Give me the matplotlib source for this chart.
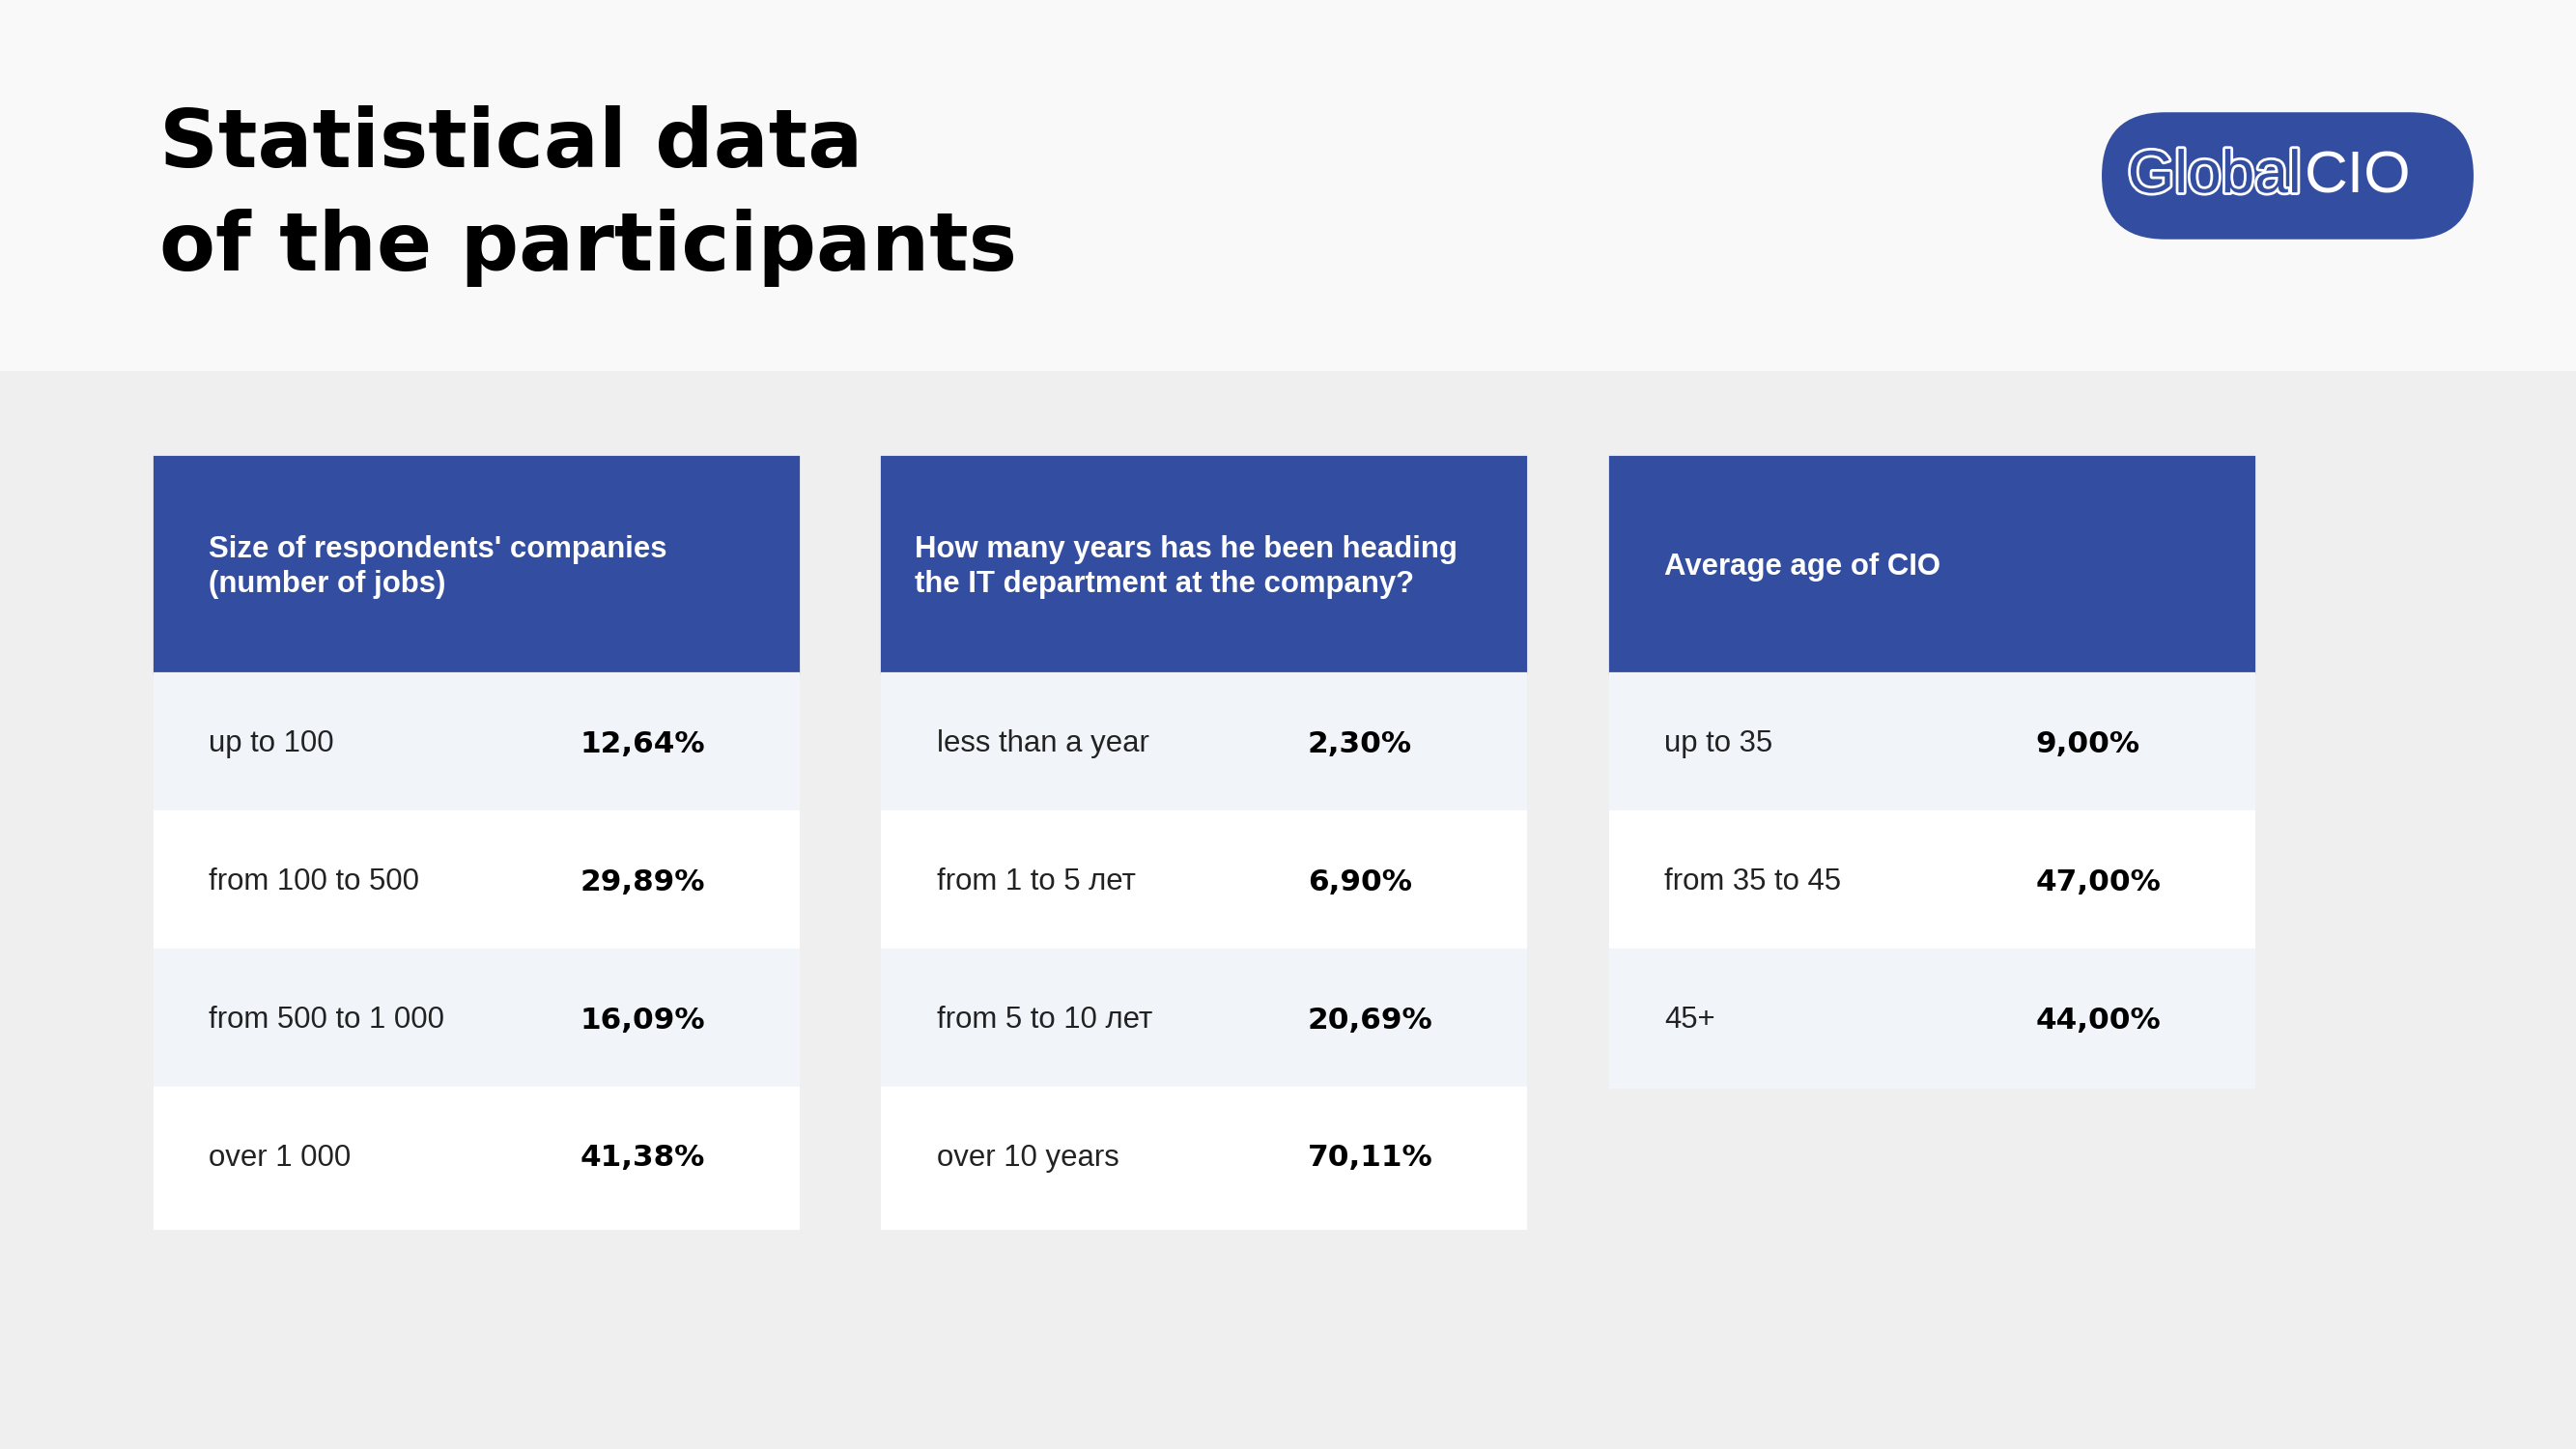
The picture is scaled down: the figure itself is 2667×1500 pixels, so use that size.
import matplotlib
matplotlib.use("Agg")
import matplotlib.pyplot as plt
from matplotlib.patches import Rectangle, FancyBboxPatch
import matplotlib.patheffects as pe

HEADERS = [
    "Size of respondents' companies\n(number of jobs)",
    "How many years has he been heading\nthe IT department at the company?",
    "Average age of CIO",
]
LABELS_SIZE = ["up to 100", "from 100 to 500", "from 500 to 1 000", "over 1 000"]
VALUES_SIZE = ["12,64%", "29,89%", "16,09%", "41,38%"]
LABELS_YEARS = ["less than a year", "from 1 to 5 лет", "from 5 to 10 лет", "over 10 years"]
VALUES_YEARS = ["2,30%", "6,90%", "20,69%", "70,11%"]
LABELS_AGE = ["up to 35", "from 35 to 45", "45+"]
VALUES_AGE = ["9,00%", "47,00%", "44,00%"]

BLUE = "#334ea0"
LIGHT = "#f1f4f9"
W, H = 1568, 882

fig = plt.figure(figsize=(2667 / 160, 1500 / 160), dpi=160)
ax = fig.add_axes([0, 0, 1, 1])
ax.set_xlim(0, W)
ax.set_ylim(H, 0)
ax.axis("off")

ax.add_patch(Rectangle((0, 0), W, H, color="#efefef", zorder=0))
ax.add_patch(Rectangle((0, 0), W, 225, color="#f9f9f9", zorder=0))

ax.text(97, 88, "Statistical data", fontsize=38, fontweight="bold", color="black",
        va="center", ha="left", family="DejaVu Sans")
ax.text(97, 151, "of the participants", fontsize=38, fontweight="bold", color="black",
        va="center", ha="left", family="DejaVu Sans")

# logo
ax.add_patch(FancyBboxPatch((1280, 69), 225, 76, boxstyle="round,pad=0,rounding_size=38",
                            color=BLUE, zorder=2))
ax.text(1401, 108, "Global", fontsize=28, color=BLUE, ha="right", va="center",
        family="Liberation Sans", zorder=3,
        path_effects=[pe.withStroke(linewidth=2.5, foreground="white")])
ax.text(1403, 108, "CIO", fontsize=28, color="white", ha="left", va="center",
        family="Liberation Sans", zorder=3)

panels = [(94, LABELS_SIZE, VALUES_SIZE), (537, LABELS_YEARS, VALUES_YEARS),
          (980, LABELS_AGE, VALUES_AGE)]
pw = 392
row_h = 84
for i, (x0, labels, values) in enumerate(panels):
    ax.add_patch(Rectangle((x0, 278), pw, 132, color=BLUE, zorder=1))
    tx = x0 + (20 if i == 1 else 33)
    ax.text(tx, 345, HEADERS[i], fontsize=14, fontweight="bold", color="white",
            va="center", ha="left", linespacing=1.25, family="Liberation Sans")
    for j, (lab, val) in enumerate(zip(labels, values)):
        y = 410 + j * row_h
        ax.add_patch(Rectangle((x0, y), pw, row_h + (2 if j == 3 else 0),
                               color=LIGHT if j % 2 == 0 else "white", zorder=1))
        ax.text(x0 + 33, y + 43, lab, fontsize=14, color="#222222",
                va="center", ha="left", family="Liberation Sans")
        ax.text(x0 + 259, y + 43, val, fontsize=14, fontweight="bold", color="black",
                va="center", ha="left", family="DejaVu Sans")

fig.savefig("out.png", dpi=160)
